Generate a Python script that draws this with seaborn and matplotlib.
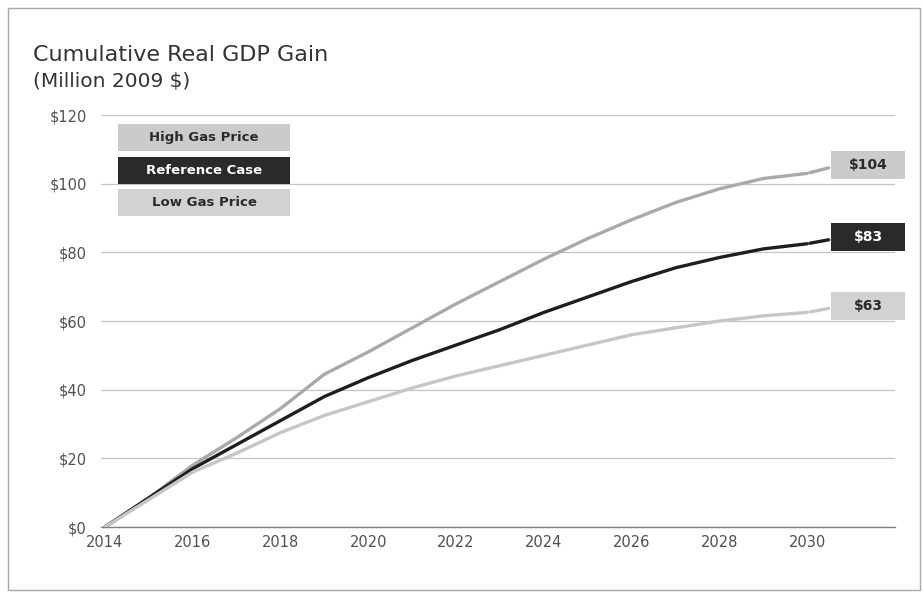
import numpy as np
import pandas as pd
import matplotlib
matplotlib.use("Agg")
import matplotlib.pyplot as plt
from matplotlib.patches import Rectangle
import seaborn as sns

years = list(range(2014, 2031))
high_gas = [0, 8.5, 18, 26, 34.5, 44.5, 51, 58, 65, 71.5, 78, 84, 89.5, 94.5, 98.5, 101.5, 103]
reference = [0, 8.5, 17, 24, 31, 38, 43.5, 48.5, 53, 57.5, 62.5, 67, 71.5, 75.5, 78.5, 81, 82.5]
low_gas = [0, 8, 16, 21.5, 27.5, 32.5, 36.5, 40.5, 44, 47, 50, 53, 56, 58, 60, 61.5, 62.5]
series_names = ["High Gas Price", "Reference Case", "Low Gas Price"]
end_labels = ["$104", "$83", "$63"]
end_values = [104, 83, 63]
x_ticks = [2014, 2016, 2018, 2020, 2022, 2024, 2026, 2028, 2030]
y_ticks = [0, 20, 40, 60, 80, 100, 120]

line_colors = {"High Gas Price": "#a9a9a9", "Reference Case": "#1e1e1e", "Low Gas Price": "#c6c6c6"}
box_colors = {"High Gas Price": "#cbcbcb", "Reference Case": "#2a2a2a", "Low Gas Price": "#d2d2d2"}
text_colors = {"High Gas Price": "#2a2a2a", "Reference Case": "#ffffff", "Low Gas Price": "#2a2a2a"}

df = pd.DataFrame({
    "year": years * 3,
    "value": high_gas + reference + low_gas,
    "series": sum([[n] * len(years) for n in series_names], []),
})

sns.set_theme(style="white")
plt.rcParams['font.family'] = ['DejaVu Sans']

W, H = 923, 595
fig = plt.figure(figsize=(W / 100, H / 100), dpi=100)
fig.patch.set_facecolor("white")

def fx(px):
    return px / W

def fy(py):
    return 1 - py / H

ax = fig.add_axes([fx(100.6), fy(527), fx(895 - 100.6), (527 - 115) / H])
sns.lineplot(data=df, x="year", y="value", hue="series", palette=line_colors,
             hue_order=series_names, linewidth=2.4, ax=ax, legend=False, zorder=3,
             solid_joinstyle="round", solid_capstyle="round")

ax.set_xlim(2013.9, 2032)
ax.set_ylim(0, 120)
ax.set_xticks(x_ticks)
ax.set_xticklabels([str(t) for t in x_ticks], fontsize=10.5, color="#505050")
ax.set_yticks(y_ticks)
ax.set_yticklabels([f"${t}" for t in y_ticks], fontsize=10.5, color="#505050")
ax.tick_params(axis="both", length=0)
ax.tick_params(axis="y", pad=10)
ax.tick_params(axis="x", pad=6)
ax.set_xlabel("")
ax.set_ylabel("")
ax.grid(axis="y", color="#c4c4c4", linewidth=0.9)
ax.grid(axis="x", visible=False)
for s in ["top", "right", "left"]:
    ax.spines[s].set_visible(False)
ax.spines["bottom"].set_color("#808080")
ax.spines["bottom"].set_linewidth(1.0)

# end-value boxes
for name, lab, val, last in zip(series_names, end_labels, end_values,
                                [high_gas[-1], reference[-1], low_gas[-1]]):
    yc = val + 1.4
    h = 8.2
    rect = Rectangle((2030.55, yc - h / 2), 1.68, h, facecolor=box_colors[name],
                     edgecolor="none", clip_on=False, zorder=4)
    ax.add_patch(rect)
    ax.text(2030.55 + 0.84, yc, lab, ha="center", va="center", fontsize=10,
            fontweight="bold", color=text_colors[name], zorder=5, clip_on=False)
    ax.annotate("", xy=(2030.55, yc - 0.6), xytext=(years[-1], last),
                arrowprops=dict(arrowstyle="-", color=line_colors[name], lw=2.4),
                zorder=3, annotation_clip=False)

# legend boxes
tops = [124, 157, 189]
for name, top in zip(series_names, tops):
    r = Rectangle((fx(118), fy(top + 27)), fx(172), 27 / H, transform=fig.transFigure,
                  facecolor=box_colors[name], edgecolor="none", zorder=5)
    fig.patches.append(r)
    fig.text(fx(118 + 86), fy(top + 13.5), name, ha="center", va="center",
             fontsize=9.5, fontweight="bold", color=text_colors[name], zorder=6)

# titles
fig.text(fx(33), fy(61), "Cumulative Real GDP Gain", fontsize=16, color="#333333",
         ha="left", va="baseline")
fig.text(fx(33), fy(87), "(Million 2009 $)", fontsize=14.5, color="#333333",
         ha="left", va="baseline")

# outer frame
frame = Rectangle((fx(8), fy(590)), fx(912), 582 / H, transform=fig.transFigure,
                  facecolor="none", edgecolor="#a8a8a8", linewidth=1.0, zorder=0)
fig.patches.append(frame)

fig.savefig("out.png", dpi=100, facecolor="white")
